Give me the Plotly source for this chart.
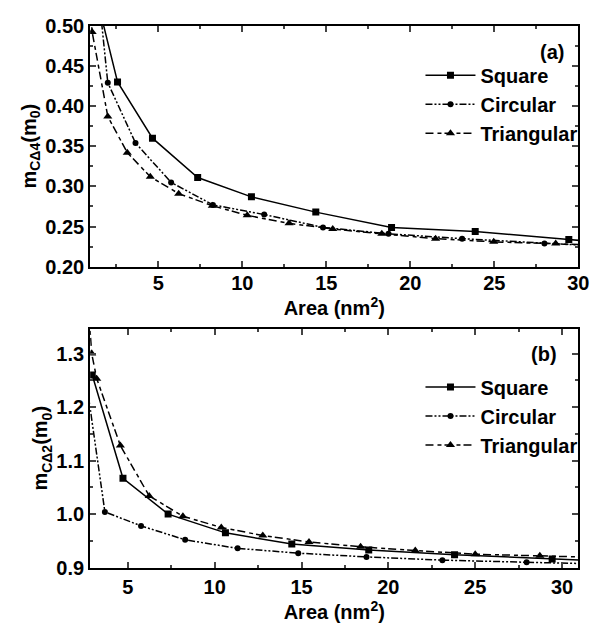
import plotly.graph_objects as go

# ---- Panel (a) data: m_CΔ4 vs Area ----
sq_a_x = [1.0, 2.57, 4.65, 7.34, 10.54, 14.37, 18.88, 23.86, 29.43, 31.0]
sq_a_y = [0.563, 0.430, 0.360, 0.311, 0.287, 0.268, 0.249, 0.244, 0.234, 0.231]
ci_a_x = [1.0, 1.99, 3.64, 5.76, 8.25, 11.30, 14.80, 18.7, 23.08, 27.98, 31.0]
ci_a_y = [0.63, 0.429, 0.354, 0.305, 0.277, 0.265, 0.249, 0.241, 0.235, 0.229, 0.226]
tr_a_x = [0.8, 1.06, 1.99, 3.15, 4.52, 6.21, 8.21, 10.29, 12.78, 15.38, 18.3, 21.5, 24.96, 28.65, 31.0]
tr_a_y = [0.56, 0.492, 0.387, 0.342, 0.312, 0.291, 0.276, 0.264, 0.254, 0.247, 0.241, 0.235, 0.231, 0.229, 0.227]

# ---- Panel (b) data: m_CΔ2 vs Area ----
sq_b_x = [2.95, 4.72, 7.32, 10.62, 14.44, 18.87, 23.81, 29.43, 32.0]
sq_b_y = [1.26, 1.067, 1.000, 0.965, 0.944, 0.933, 0.924, 0.916, 0.913]
ci_b_x = [2.6, 3.68, 5.76, 8.30, 11.32, 14.81, 18.74, 23.11, 27.96, 32.0]
ci_b_y = [1.25, 1.004, 0.978, 0.952, 0.936, 0.927, 0.920, 0.914, 0.910, 0.907]
tr_b_x = [2.7, 2.92, 3.21, 4.57, 6.23, 8.17, 10.38, 12.77, 15.43, 18.40, 21.55, 25.0, 28.72, 32.0]
tr_b_y = [1.40, 1.30, 1.253, 1.128, 1.034, 0.996, 0.975, 0.960, 0.948, 0.939, 0.932, 0.925, 0.922, 0.919]

names = ["Square", "Circular", "Triangular"]
x_ticks = [5, 10, 15, 20, 25, 30]

FONT = "Liberation Sans, Arial, sans-serif"
styles = [
    dict(dash="solid", symbol="square", size=7),
    dict(dash="7px,2px,2px,2px,2px,2px", symbol="circle", size=6),
    dict(dash="8px,4px,4px,3px", symbol="triangle-up", size=8),
]

fig = go.Figure()
panels = [
    ("x", "y", "legend", [(sq_a_x, sq_a_y), (ci_a_x, ci_a_y), (tr_a_x, tr_a_y)]),
    ("x2", "y2", "legend2", [(sq_b_x, sq_b_y), (ci_b_x, ci_b_y), (tr_b_x, tr_b_y)]),
]
for xa, ya, lg, series in panels:
    for (xs, ys), nm, st in zip(series, names, styles):
        fig.add_trace(go.Scatter(
            x=xs, y=ys, name=nm, mode="lines+markers", xaxis=xa, yaxis=ya, legend=lg,
            line=dict(color="black", width=1.5, dash=st["dash"]),
            marker=dict(color="black", symbol=st["symbol"], size=st["size"]),
        ))

tickfont = dict(family=FONT, size=20, color="black", weight="bold")
titlefont = dict(family=FONT, size=20, color="black", weight="bold")
ytitlefont = dict(family=FONT, size=20, color="black", weight="bold")
legfont = dict(family=FONT, size=20, color="black", weight="bold")

def xaxis(rng, anchor, standoff, tlso):
    return dict(domain=[0.149, 0.956], range=rng, anchor=anchor,
                tickvals=x_ticks, ticks="inside", ticklen=6, tickwidth=1.5,
                minor=dict(ticks="inside", ticklen=3, tickwidth=1.5, dtick=2.5, tick0=0),
                showline=True, linewidth=2, linecolor="black", mirror="allticks",
                showgrid=False, zeroline=False, tickfont=tickfont, ticklabelstandoff=tlso,
                title=dict(text="Area (nm<sup>2</sup>)", font=titlefont, standoff=standoff))

def yaxis(dom, rng, dt, fmt, title, anchor):
    return dict(domain=dom, range=rng, anchor=anchor, dtick=dt, tick0=0, tickformat=fmt,
                ticks="inside", ticklen=6, tickwidth=1.5,
                minor=dict(ticks="inside", ticklen=3, tickwidth=1.5, dtick=dt / 2, tick0=0),
                showline=True, linewidth=2, linecolor="black", mirror="allticks",
                showgrid=False, zeroline=False, tickfont=tickfont,
                title=dict(text=title, font=ytitlefont, standoff=3))

fig.update_layout(
    width=616, height=631, margin=dict(l=0, r=0, t=0, b=0),
    paper_bgcolor="white", plot_bgcolor="white",
    xaxis=xaxis([0.94, 30.0], "y", 0, -3),
    yaxis=yaxis([0.580, 0.976], [0.2, 0.5], 0.05, ".2f", "m<sub>CΔ4</sub>(m<sub>0</sub>)", "x"),
    xaxis2=xaxis([2.83, 30.94], "y2", 0, 0),
    yaxis2=yaxis([0.086, 0.478], [0.9, 1.346], 0.1, ".1f", "m<sub>CΔ2</sub>(m<sub>0</sub>)", "x2"),
    legend=dict(x=0.695, y=0.847, xanchor="left", yanchor="middle", bgcolor="rgba(0,0,0,0)",
                itemwidth=50, font=legfont),
    legend2=dict(x=0.695, y=0.335, xanchor="left", yanchor="middle", bgcolor="rgba(0,0,0,0)",
                 itemwidth=50, font=legfont),
    annotations=[
        dict(text="(a)", x=0.935, y=0.932, xref="paper", yref="paper", xanchor="right",
             yanchor="middle", showarrow=False, font=titlefont),
        dict(text="(b)", x=0.924, y=0.437, xref="paper", yref="paper", xanchor="right",
             yanchor="middle", showarrow=False, font=titlefont),
    ],
)

fig.write_html("out.html")
